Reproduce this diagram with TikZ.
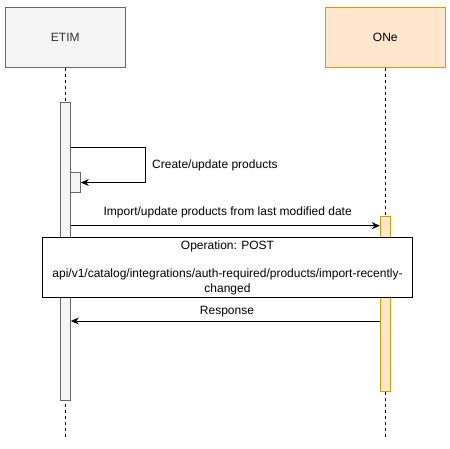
\documentclass[tikz,border=0pt]{standalone}
\usepackage{fontspec}
\setmainfont{Liberation Sans}
\usetikzlibrary{arrows.meta}
\definecolor{etimfill}{HTML}{F5F5F5}
\definecolor{etimdraw}{HTML}{666666}
\definecolor{etimtext}{HTML}{333333}
\definecolor{onefill}{HTML}{FFE6CC}
\definecolor{onedraw}{HTML}{D79B00}
\begin{document}
\begin{tikzpicture}[x=1pt,y=-1pt,
  every node/.style={font=\fontsize{12}{14.4}\selectfont},
  actor/.style={draw, line width=1pt, minimum width=120pt, minimum height=60pt, inner sep=0pt},
  actbar/.style={draw, line width=1pt, minimum width=10pt, inner sep=0pt},
  life/.style={line width=1pt, dash pattern=on 3pt off 3pt},
  msg/.style={line width=1pt, -{Stealth[length=8pt,width=7pt,inset=2.5pt]}},
  lbl/.style={inner sep=0pt}]
\useasboundingbox (0,0) rectangle (450,448);
% actors
\node[actor, fill=etimfill, draw=etimdraw, text=etimtext] (etim) at (65.3,37) {ETIM};
\node[actor, fill=onefill, draw=onedraw] (one) at (385.3,37) {ONe};
% lifelines
\coordinate (etimend) at (65.3,437);
\coordinate (oneend) at (385.3,437);
\draw[life] (etim.south) -- (etimend);
\draw[life] (one.south) -- (oneend);
% activations
\node[actbar, fill=etimfill, draw=etimdraw, minimum height=298pt] (etimact) at (65.3,251) {};
\node[actbar, fill=onefill, draw=onedraw, minimum height=175.5pt] (oneact) at (385.3,304) {};
\node[actbar, fill=etimfill, draw=etimdraw, minimum height=19.5pt] (selfact) at (75.3,182.5) {};
% self loop
\coordinate (loopr) at (145.7,147.3);
\draw[msg] (etimact.east |- loopr) -- (loopr) |- (selfact.east);
\node[lbl, anchor=west] (looplbl) at (152,165) {Create/update products};
% import message
\coordinate (imp) at (0,225.7);
\draw[msg] (etimact.east |- imp) -- (oneact.west |- imp);
\node[lbl] (implbl) at (227.7,212) {Import/update products from last modified date};
% operation box
\node[draw, line width=1pt, fill=white, minimum width=370.4pt, minimum height=59.6pt, inner sep=0pt, align=center] (op) at (227.5,267.5)
  {Operation: POST\\[14.4pt]api/v1/catalog/integrations/auth-required/products/import-recently-\\changed};
% response
\coordinate (resp) at (0,321);
\draw[msg] (oneact.west |- resp) -- (etimact.east |- resp);
\node[lbl] (resplbl) at (227,311.5) {Response};
\end{tikzpicture}
\end{document}
